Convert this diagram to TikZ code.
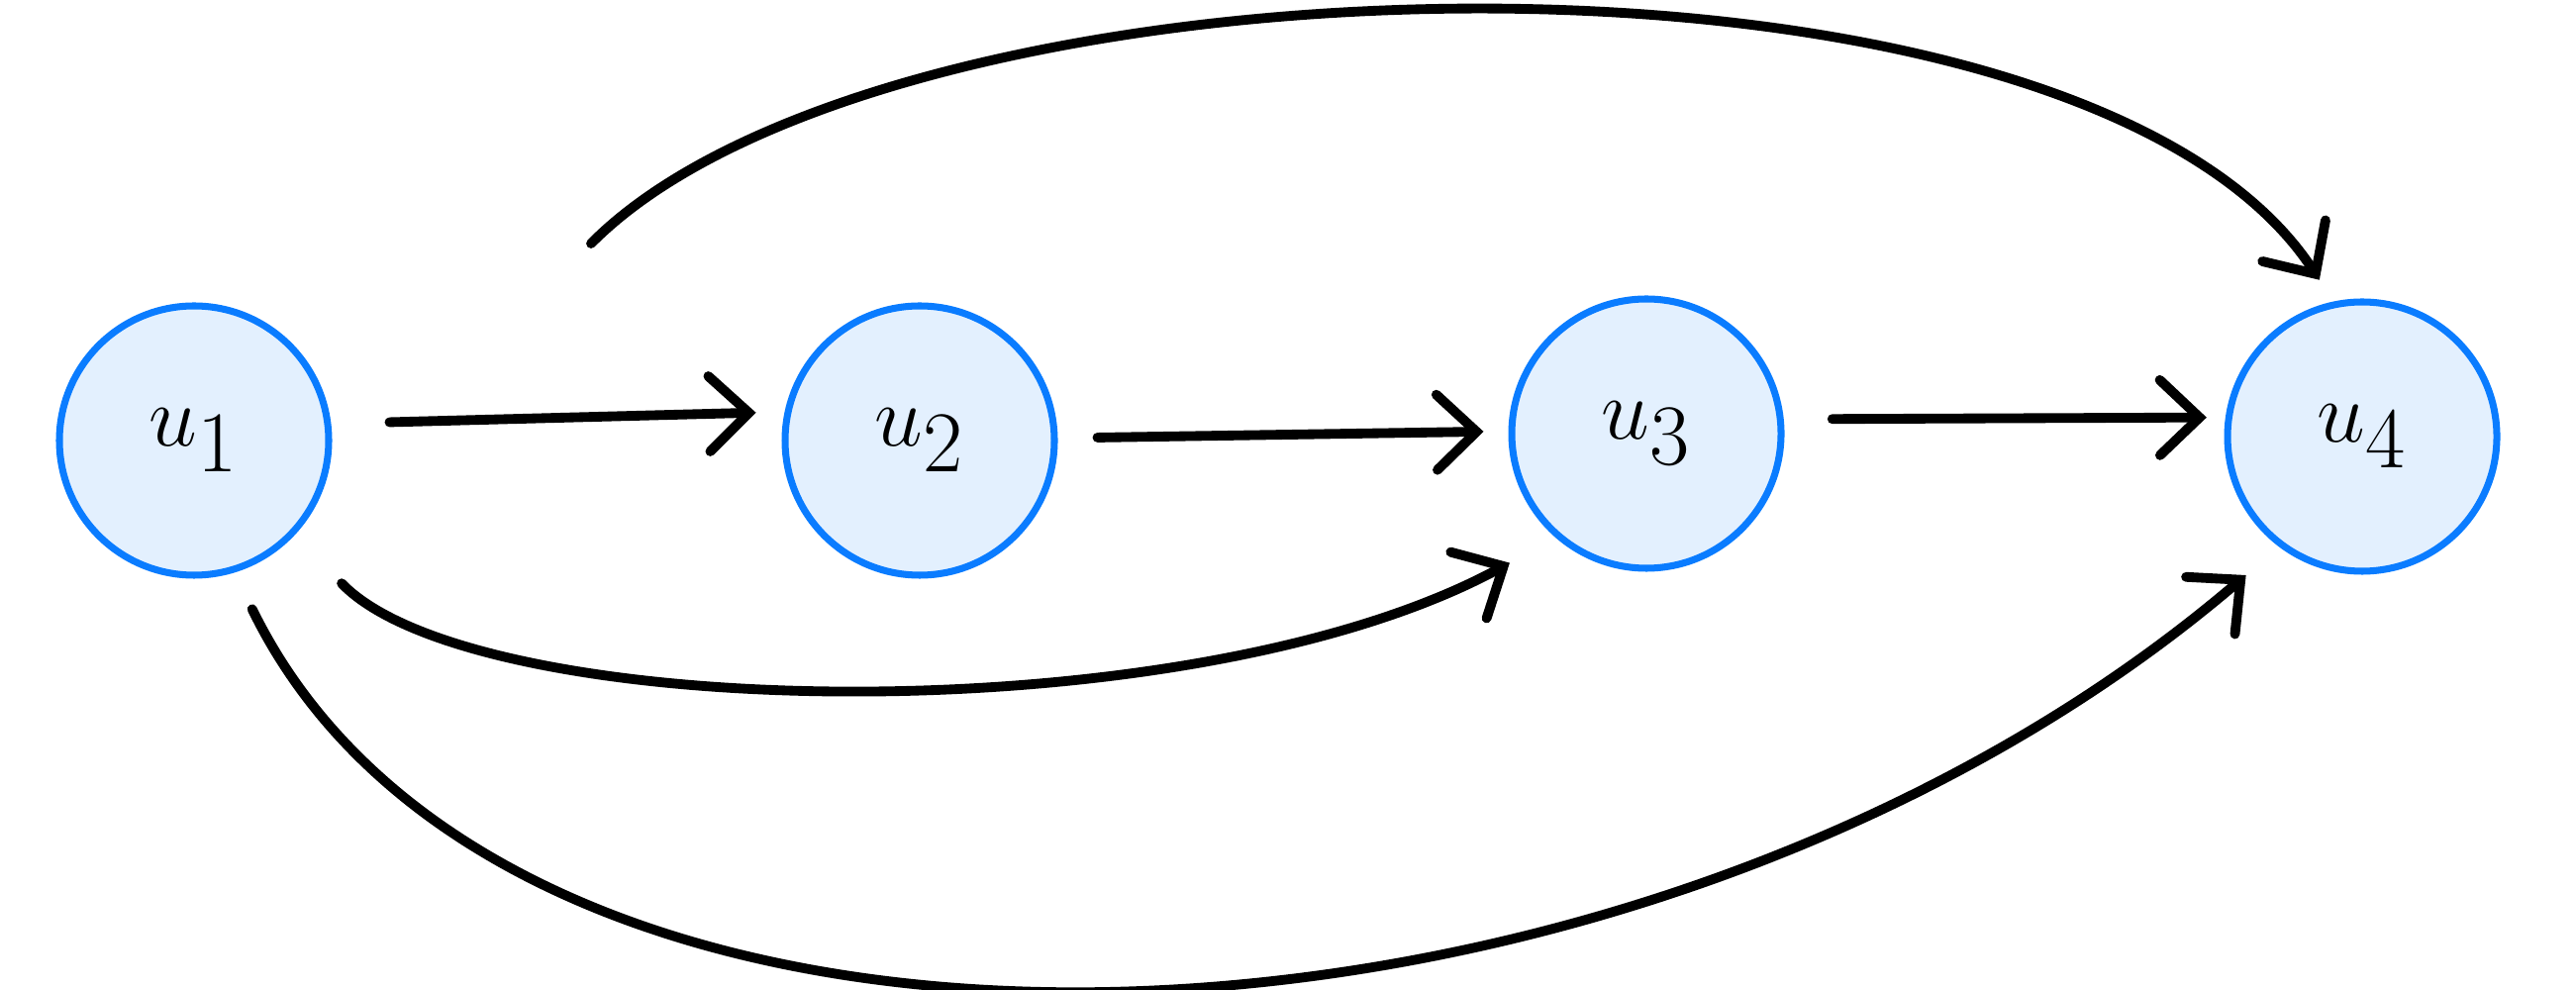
\documentclass[tikz,border=0pt]{standalone}
\usepackage{amsmath}
\usepackage{tikz}
\usetikzlibrary{arrows.meta,positioning}
\definecolor{ringblue}{HTML}{0A7CFF}
\definecolor{fillblue}{HTML}{E3F0FE}

\begin{document}
\begin{tikzpicture}[
    vert/.style={circle, draw=ringblue, fill=fillblue, line width=2pt, minimum size=2.72cm, inner sep=0pt, font=\fontsize{40}{46}\selectfont},
    edge/.style={draw, line width=2.8pt, line cap=round, -{Straight Barb[length=0.40cm, width=0.76cm, line cap=round]}}
]
\useasboundingbox (0,0) rectangle (26.02,-10);

% Nodes
\node[vert] (u1) at (1.96,-4.45) {$u_1$};
\node[vert] (u2) at (9.29,-4.45) {$u_2$};
\node[vert] (u3) at (16.63,-4.38) {$u_3$};
\node[vert] (u4) at (23.86,-4.41) {$u_4$};
\coordinate (t24) at (5.97,-2.46);

% Edges
\draw[edge, shorten <=0.59cm, shorten >=0.29cm] (u1.7) -- (u2.168);
\draw[edge, shorten <=0.40cm, shorten >=0.25cm] (u2.1) -- (u3.179);
\draw[edge, shorten <=0.49cm, shorten >=0.19cm] (u3.6) -- (u4.172);
\draw[edge, shorten >=0.26cm] (t24) .. controls (9.0,0.6) and (21.0,0.9) .. (u4.102);
\draw[edge, shorten <=0.68cm, shorten >=0.53cm] (u1.-43) .. controls (4.8,-7.3) and (12.0,-7.45) .. (u3.-131);
\draw[edge, shorten <=0.41cm, shorten >=0.44cm] (u1.-73) .. controls (5.2,-11.6) and (16.5,-11.1) .. (u4.-127);

\end{tikzpicture}
\end{document}
